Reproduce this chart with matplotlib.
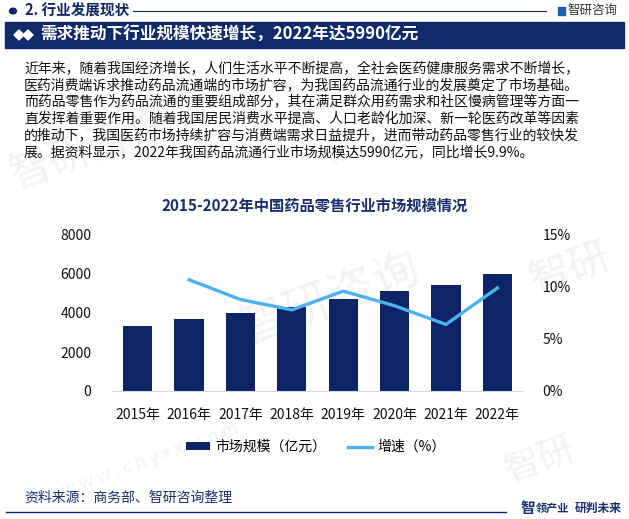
import numpy as np
import matplotlib.pyplot as plt
from matplotlib.patches import Rectangle, Polygon, Circle
from matplotlib.lines import Line2D

plt.rcParams['font.family'] = ['Noto Sans CJK SC', 'DejaVu Sans']

years = ['2015年', '2016年', '2017年', '2018年', '2019年', '2020年', '2021年', '2022年']
market = [3323, 3679, 4003, 4317, 4733, 5119, 5449, 5990]
growth = [np.nan, 10.7, 8.8, 7.8, 9.6, 8.2, 6.4, 9.9]
yticks = [0, 2000, 4000, 6000, 8000]
pticks = [0, 5, 10, 15]

paragraph = [
    '近年来，随着我国经济增长，人们生活水平不断提高，全社会医药健康服务需求不断增长，',
    '医药消费端诉求推动药品流通端的市场扩容，为我国药品流通行业的发展奠定了市场基础。',
    '而药品零售作为药品流通的重要组成部分，其在满足群众用药需求和社区慢病管理等方面一',
    '直发挥着重要作用。随着我国居民消费水平提高、人口老龄化加深、新一轮医药改革等因素',
    '的推动下，我国医药市场持续扩容与消费端需求日益提升，进而带动药品零售行业的较快发',
    '展。据资料显示，2022年我国药品流通行业市场规模达5990亿元，同比增长9.9%。',
]

navy = '#0d2566'
blue = '#4cb2ee'
W, H = 629, 519

fig = plt.figure(figsize=(W / 100, H / 100), dpi=100)


def fx(x):
    return x / W


def fy(y):
    return 1 - y / H


# faint watermarks, behind everything
for (x, y, s, size) in [(90, 150, '智研咨询', 30), (330, 300, '智研咨询', 34),
                        (570, 270, '智研', 30), (150, 460, 'w w w . c h y x x . c o m', 13),
                        (420, 130, 'w w w . c h y x x . c o m', 13), (540, 460, '智研', 26)]:
    fig.text(fx(x), fy(y), s, fontsize=size, color='#f1f3f7', rotation=20,
             ha='center', va='center', zorder=-5)

# header
fig.patches.append(Circle((fx(13), fy(11)), 0.0055, transform=fig.transFigure,
                          color=navy, zorder=2))
fig.text(fx(25), fy(11), '2. 行业发展现状', fontsize=10.5, fontweight='bold',
         color=navy, va='center', ha='left')
fig.add_artist(Line2D([fx(133), fx(546)], [fy(11), fy(11)], color=navy, lw=0.8))
fig.patches.append(Rectangle((fx(558), fy(15)), fx(7), 8 / H, transform=fig.transFigure,
                             color='#1f5fb8'))
fig.text(fx(567), fy(10), '智研咨询', fontsize=9, color='#333333', va='center', ha='left')

# banner
fig.patches.append(Rectangle((fx(5), fy(48)), fx(619), 26 / H, transform=fig.transFigure,
                             color='#102a6b', zorder=1))
for cx in (19, 28):
    fig.patches.append(Polygon([(fx(cx - 5), fy(35)), (fx(cx), fy(30)), (fx(cx + 5), fy(35)),
                                (fx(cx), fy(40))], closed=True, transform=fig.transFigure,
                               color='white', zorder=2))
fig.text(fx(40), fy(35), '需求推动下行业规模快速增长，2022年达5990亿元', fontsize=12,
         fontweight='bold', color='white', va='center', ha='left', zorder=3)

# paragraph
for i, line in enumerate(paragraph):
    fig.text(fx(24), fy(68 + i * 16.8), line, fontsize=10, color='#111111',
             va='center', ha='left')

# chart title
fig.text(fx(315), fy(205), '2015-2022年中国药品零售行业市场规模情况', fontsize=11,
         fontweight='bold', color='#1b2f6e', va='center', ha='center')

ax = fig.add_axes([fx(112), fy(391), fx(411), 156 / H])
ax.patch.set_alpha(0)
x = np.arange(len(years))
bars = ax.bar(x, market, width=0.57, color=navy, label='市场规模（亿元）', zorder=2)
ax.set_xlim(-0.5, len(years) - 0.5)
ax.set_ylim(0, 8000)
ax.set_yticks(yticks)
ax.set_yticklabels([str(v) for v in yticks])
ax.set_xticks(x)
ax.set_xticklabels(years)
ax.tick_params(axis='both', length=0, labelsize=10, colors='#111111')
ax.tick_params(axis='y', pad=15)
ax.tick_params(axis='x', pad=12)
for s in ['top', 'right', 'left']:
    ax.spines[s].set_visible(False)
ax.spines['bottom'].set_color('#d9d9d9')

ax2 = ax.twinx()
line, = ax2.plot(x, growth, color=blue, lw=2.4, label='增速（%）', zorder=3)
ax2.set_ylim(0, 15)
ax2.set_yticks(pticks)
ax2.set_yticklabels([f'{v}%' for v in pticks])
ax2.tick_params(axis='y', length=0, labelsize=10, colors='#111111', pad=14)
for s in ['top', 'right', 'left', 'bottom']:
    ax2.spines[s].set_visible(False)

fig.legend([bars, line], ['市场规模（亿元）', '增速（%）'], loc='center',
           bbox_to_anchor=(fx(316), fy(447)), ncol=2, frameon=False, fontsize=10,
           handlelength=1.7, handleheight=0.5, columnspacing=1.6, handletextpad=0.4)

# footer
fig.text(fx(24), fy(498), '资料来源：商务部、智研咨询整理', fontsize=10, color='#1b2f6e',
         va='center', ha='left')
fig.add_artist(Line2D([fx(6), fx(506)], [fy(512), fy(512)], color=navy, lw=1))
fig.text(fx(521), fy(508), '智', fontsize=10.5, fontweight='bold', color='#1b2f6e',
         va='center', ha='left')
fig.text(fx(536), fy(508), '领产业', fontsize=8, fontweight='bold', color='#1b2f6e',
         va='center', ha='left')
fig.text(fx(575), fy(508), '研判未来', fontsize=8.5, fontweight='bold', color='#1b2f6e',
         va='center', ha='left')

fig.savefig('out.png', dpi=100)
